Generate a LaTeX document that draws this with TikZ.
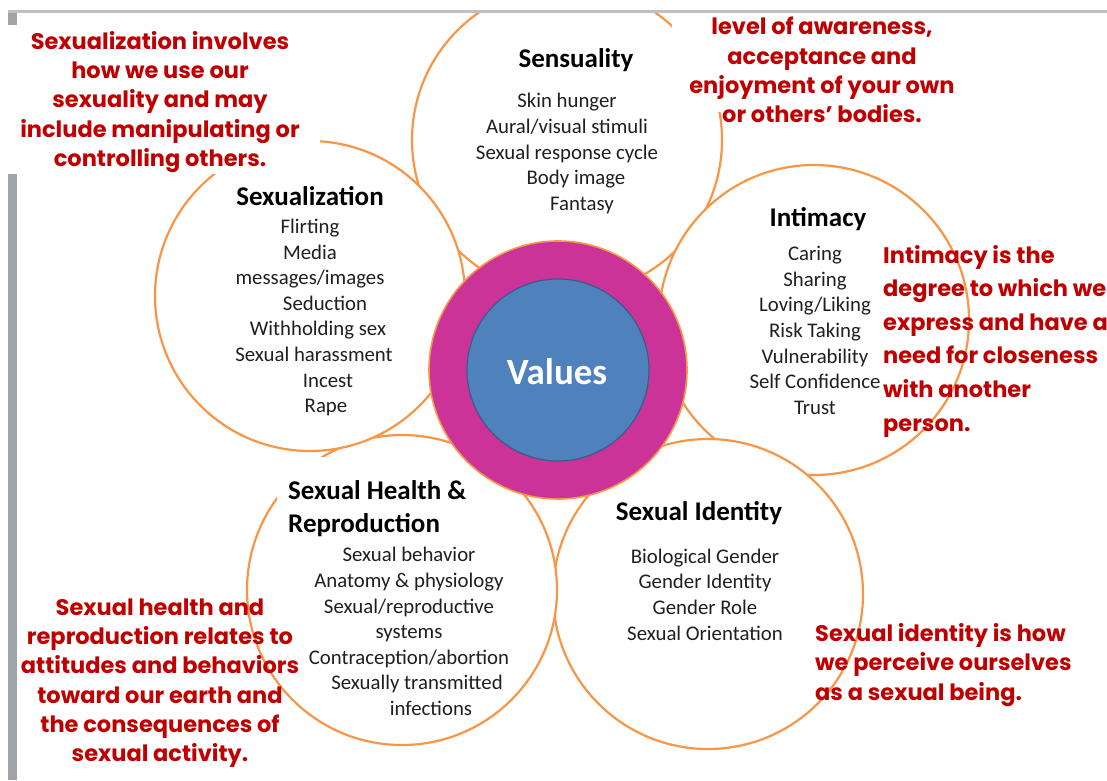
\documentclass[tikz,border=0pt]{standalone}
\usepackage{fontspec}
\setmainfont{Carlito}
\newfontfamily\notefont{Poppins}
\definecolor{petal}{RGB}{247,150,70}
\definecolor{ringmag}{RGB}{204,51,153}
\definecolor{corebl}{RGB}{79,129,189}
\definecolor{coreedge}{RGB}{56,93,138}
\definecolor{notered}{RGB}{192,0,0}
\definecolor{bargray}{RGB}{160,163,168}
\definecolor{linegray}{RGB}{190,192,196}
\begin{document}
\begin{tikzpicture}[x=1pt,y=-1pt,
  petalc/.style={circle, draw=petal, line width=2.2pt, fill=white, minimum size=310, inner sep=0},
  ttl/.style={font=\bfseries\fontsize{27}{33}\selectfont, inner sep=0, align=left},
  items/.style={font=\fontsize{20.8}{25.6}\selectfont, align=center, inner sep=0, text=black!88},
  note/.style={font=\notefont\bfseries\fontsize{22.5}{29.3}\selectfont, text=notered, inner sep=0},
  whitebox/.style={fill=white, draw=none, inner sep=0}
]
\useasboundingbox (0,0) rectangle (1107,780);
\fill[white] (0,0) rectangle (1107,780);
\fill[bargray] (8,10) rectangle (17,780);
\fill[linegray] (8,10) rectangle (1107,13);
% petals
\begin{scope}
\clip (0,13) rectangle (1107,780);
\node[petalc] (sens) at (567,140) {};
\node[petalc] (intim) at (814,320) {};
\node[petalc] (ident) at (708,594) {};
\node[petalc] (health) at (402,590) {};
\node[whitebox, minimum width=193, minimum height=88, anchor=north west] (hpanel) at (277,457) {};
\node[petalc] (sexz) at (310,296) {};
\end{scope}
% centre
\node[circle, fill=ringmag, draw=petal, line width=1.6pt, minimum size=258, inner sep=0] (ring) at (558,370) {};
\node[circle, fill=corebl, draw=coreedge, line width=1.2pt, minimum size=182, inner sep=0] (core) at (558,370) {};
\node[font=\bfseries\fontsize{37}{42}\selectfont, text=white, inner sep=0] (valtxt) at (557,372) {Values};
% titles
\node[ttl] (tsens) at (576,60) {Sensuality};
\node[ttl] (tsexz) at (310,196) {Sexualization};
\node[ttl] (tintim) at (818,219) {Intimacy};
\node[ttl] (tident) at (699,513) {Sexual Identity};
\node[ttl, anchor=west] (thealth) at (288,508.5) {Sexual Health \&\\Reproduction};
% items
\node[items] (isens) at (567,153.5) {Skin hunger\\Aural/visual stimuli\\Sexual response cycle\\\hspace*{18pt}Body image\\\hspace*{30pt}Fantasy};
\node[items] (isexz) at (310,317.5) {Flirting\\Media\\messages/images\\\hspace*{30pt}Seduction\\\hspace*{16pt}Withholding sex\\\hspace*{8pt}Sexual harassment\\\hspace*{36pt}Incest\\\hspace*{32pt}Rape};
\node[items] (iintim) at (815,330.5) {Caring\\Sharing\\Loving/Liking\\Risk Taking\\Vulnerability\\Self Confidence\\Trust};
\node[items] (iident) at (705,594.5) {Biological Gender\\Gender Identity\\Gender Role\\Sexual Orientation};
\node[items] (ihealth) at (409,631.5) {Sexual behavior\\Anatomy \& physiology\\Sexual/reproductive\\systems\\Contraception/abortion\\\hspace*{16pt}Sexually transmitted\\\hspace*{44pt}infections};
% notes
\node[whitebox, minimum width=315, minimum height=149, anchor=north west] (nbox1) at (5,25) {};
\node[note, align=center] (n1) at (160,102) {Sexualization involves\\how we use our\\sexuality and may\\include manipulating or\\controlling others.};
\node[whitebox, minimum width=303, minimum height=99, anchor=north west] (nbox2) at (672,13) {};
\node[note, align=center] (n2) at (822,70) {level of awareness,\\acceptance and\\enjoyment of your own\\or others’ bodies.};
\node[note, align=left, anchor=west, font=\notefont\bfseries\fontsize{22.5}{33.6}\selectfont] (n3) at (883,341) {Intimacy is the\\degree to which we\\express and have a\\need for closeness\\with another\\person.};
\node[note, align=left, anchor=west] (n4) at (815,665) {Sexual identity is how\\we perceive ourselves\\as a sexual being.};
\node[note, align=center] (n5) at (160,683) {Sexual health and\\reproduction relates to\\attitudes and behaviors\\toward our earth and\\the consequences of\\sexual activity.};
\end{tikzpicture}
\end{document}
